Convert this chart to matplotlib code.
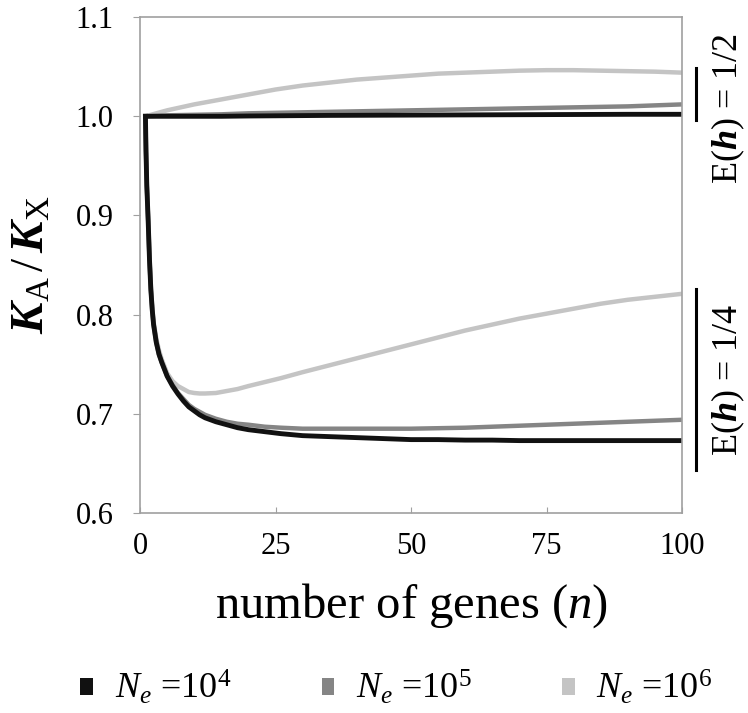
import numpy as np
import matplotlib
matplotlib.use("Agg")
import matplotlib.pyplot as plt
from matplotlib.patches import Patch

plt.rcParams['font.family'] = ['Liberation Serif', 'DejaVu Serif']
plt.rcParams['mathtext.fontset'] = 'custom'
plt.rcParams['mathtext.rm'] = 'Liberation Serif'
plt.rcParams['mathtext.it'] = 'Liberation Serif:italic'
plt.rcParams['mathtext.bf'] = 'Liberation Serif:bold:italic'

# E(h) = 1/2 curves
n_top = [1, 5, 10, 15, 20, 25, 30, 35, 40, 45, 50, 55, 60, 65, 70, 75, 80, 85, 90, 95, 100]
top_1e4 = [1.0, 1.0, 1.0, 1.0, 1.0003, 1.0005, 1.0007, 1.0009, 1.001, 1.0011, 1.0012, 1.0013,
           1.0014, 1.0015, 1.0016, 1.0017, 1.0018, 1.0019, 1.002, 1.002, 1.002]
top_1e5 = [1.0, 1.001, 1.0015, 1.002, 1.003, 1.0035, 1.004, 1.0045, 1.005, 1.0055, 1.006, 1.0065,
           1.007, 1.0075, 1.008, 1.0085, 1.009, 1.0095, 1.010, 1.011, 1.012]
top_1e6 = [1.0, 1.006, 1.012, 1.017, 1.022, 1.027, 1.031, 1.034, 1.037, 1.039, 1.041, 1.043,
           1.044, 1.045, 1.046, 1.0465, 1.0465, 1.046, 1.0455, 1.045, 1.044]

# E(h) = 1/4 curves
n_bot = [1, 1.1, 1.25, 1.5, 1.75, 2, 2.25, 2.5, 3, 3.5, 4, 5, 6, 7, 8, 9, 10, 11, 12, 14, 16,
         18, 20, 23, 26, 30, 35, 40, 45, 50, 55, 60, 65, 70, 75, 80, 85, 90, 95, 100]
bot_1e4 = [1.0, 0.965, 0.93, 0.895, 0.855, 0.825, 0.805, 0.79, 0.772, 0.76, 0.752, 0.738, 0.728,
           0.72, 0.713, 0.707, 0.703, 0.699, 0.696, 0.692, 0.689, 0.686, 0.684, 0.682, 0.680,
           0.678, 0.677, 0.676, 0.675, 0.674, 0.674, 0.6735, 0.6735, 0.673, 0.673, 0.673, 0.673,
           0.673, 0.673, 0.673]
bot_1e5 = [1.0, 0.965, 0.93, 0.895, 0.855, 0.825, 0.805, 0.79, 0.772, 0.76, 0.752, 0.738, 0.729,
           0.721, 0.715, 0.709, 0.705, 0.702, 0.699, 0.695, 0.692, 0.690, 0.689, 0.687, 0.686,
           0.685, 0.685, 0.685, 0.685, 0.685, 0.6855, 0.686, 0.687, 0.688, 0.689, 0.690, 0.691,
           0.692, 0.693, 0.694]
bot_1e6 = [1.0, 0.966, 0.932, 0.897, 0.858, 0.828, 0.808, 0.793, 0.776, 0.764, 0.755, 0.741,
           0.733, 0.728, 0.725, 0.722, 0.721, 0.7205, 0.7205, 0.721, 0.723, 0.725, 0.728, 0.732,
           0.736, 0.742, 0.749, 0.756, 0.763, 0.770, 0.777, 0.784, 0.790, 0.796, 0.801, 0.806,
           0.811, 0.815, 0.818, 0.821]

labels = [r'$N_e$ =10$^4$', r'$N_e$ =10$^5$', r'$N_e$ =10$^6$']
colors = ['#111111', '#858585', '#c4c4c4']

fig = plt.figure(figsize=(7.48, 7.13), dpi=100)
ax = fig.add_axes([0.1872, 0.2805, 0.7246, 0.6955])

# draw light first so black is on top
ax.plot(n_top, top_1e6, color=colors[2], lw=3.2)
ax.plot(n_bot, bot_1e6, color=colors[2], lw=3.2)
ax.plot(n_top, top_1e5, color=colors[1], lw=3.2)
ax.plot(n_bot, bot_1e5, color=colors[1], lw=3.2)
ax.plot(n_top, top_1e4, color=colors[0], lw=3.5)
ax.plot(n_bot, bot_1e4, color=colors[0], lw=3.5)

ax.set_xlim(0, 100)
ax.set_ylim(0.6, 1.1)
ax.set_xticks([0, 25, 50, 75, 100])
ax.set_yticks([0.6, 0.7, 0.8, 0.9, 1.0, 1.1])
ax.set_yticklabels(['0.6', '0.7', '0.8', '0.9', '1.0', '1.1'])
for s in ax.spines.values():
    s.set_color('#a0a0a0')
    s.set_linewidth(1.2)
ax.tick_params(axis='x', direction='in', length=4, color='#a0a0a0', labelsize=22, pad=14)
ax.tick_params(axis='y', direction='out', length=5, color='#a0a0a0', labelsize=22, pad=14)

ax.set_xlabel(r'number of genes ($n$)', fontsize=35, labelpad=14)
ax.set_ylabel(r'$\mathbf{K}_{\mathrm{A}}\,/\,\mathbf{K}_{\mathrm{X}}$', fontsize=34, labelpad=16)

# brackets on the right
ax.plot([1.026, 1.026], [0.996, 1.049], transform=ax.get_yaxis_transform(),
        color='black', lw=2.2, clip_on=False)
ax.plot([1.026, 1.026], [0.643, 0.826], transform=ax.get_yaxis_transform(),
        color='black', lw=2.2, clip_on=False)
ax.text(1.085, 1.008, r'E($\mathbf{h}$) = 1/2', transform=ax.get_yaxis_transform(),
        rotation=90, ha='center', va='center', fontsize=26)
ax.text(1.085, 0.734, r'E($\mathbf{h}$) = 1/4', transform=ax.get_yaxis_transform(),
        rotation=90, ha='center', va='center', fontsize=26)

handles = [Patch(facecolor=c, edgecolor='none') for c in colors]
fig.legend(handles, labels, loc='center', bbox_to_anchor=(0.53, 0.035), ncol=3,
           frameon=False, fontsize=26, handlelength=0.35, handleheight=0.35,
           handletextpad=0.6, columnspacing=2.5, borderpad=0.1)

fig.savefig('out.png', dpi=100)
